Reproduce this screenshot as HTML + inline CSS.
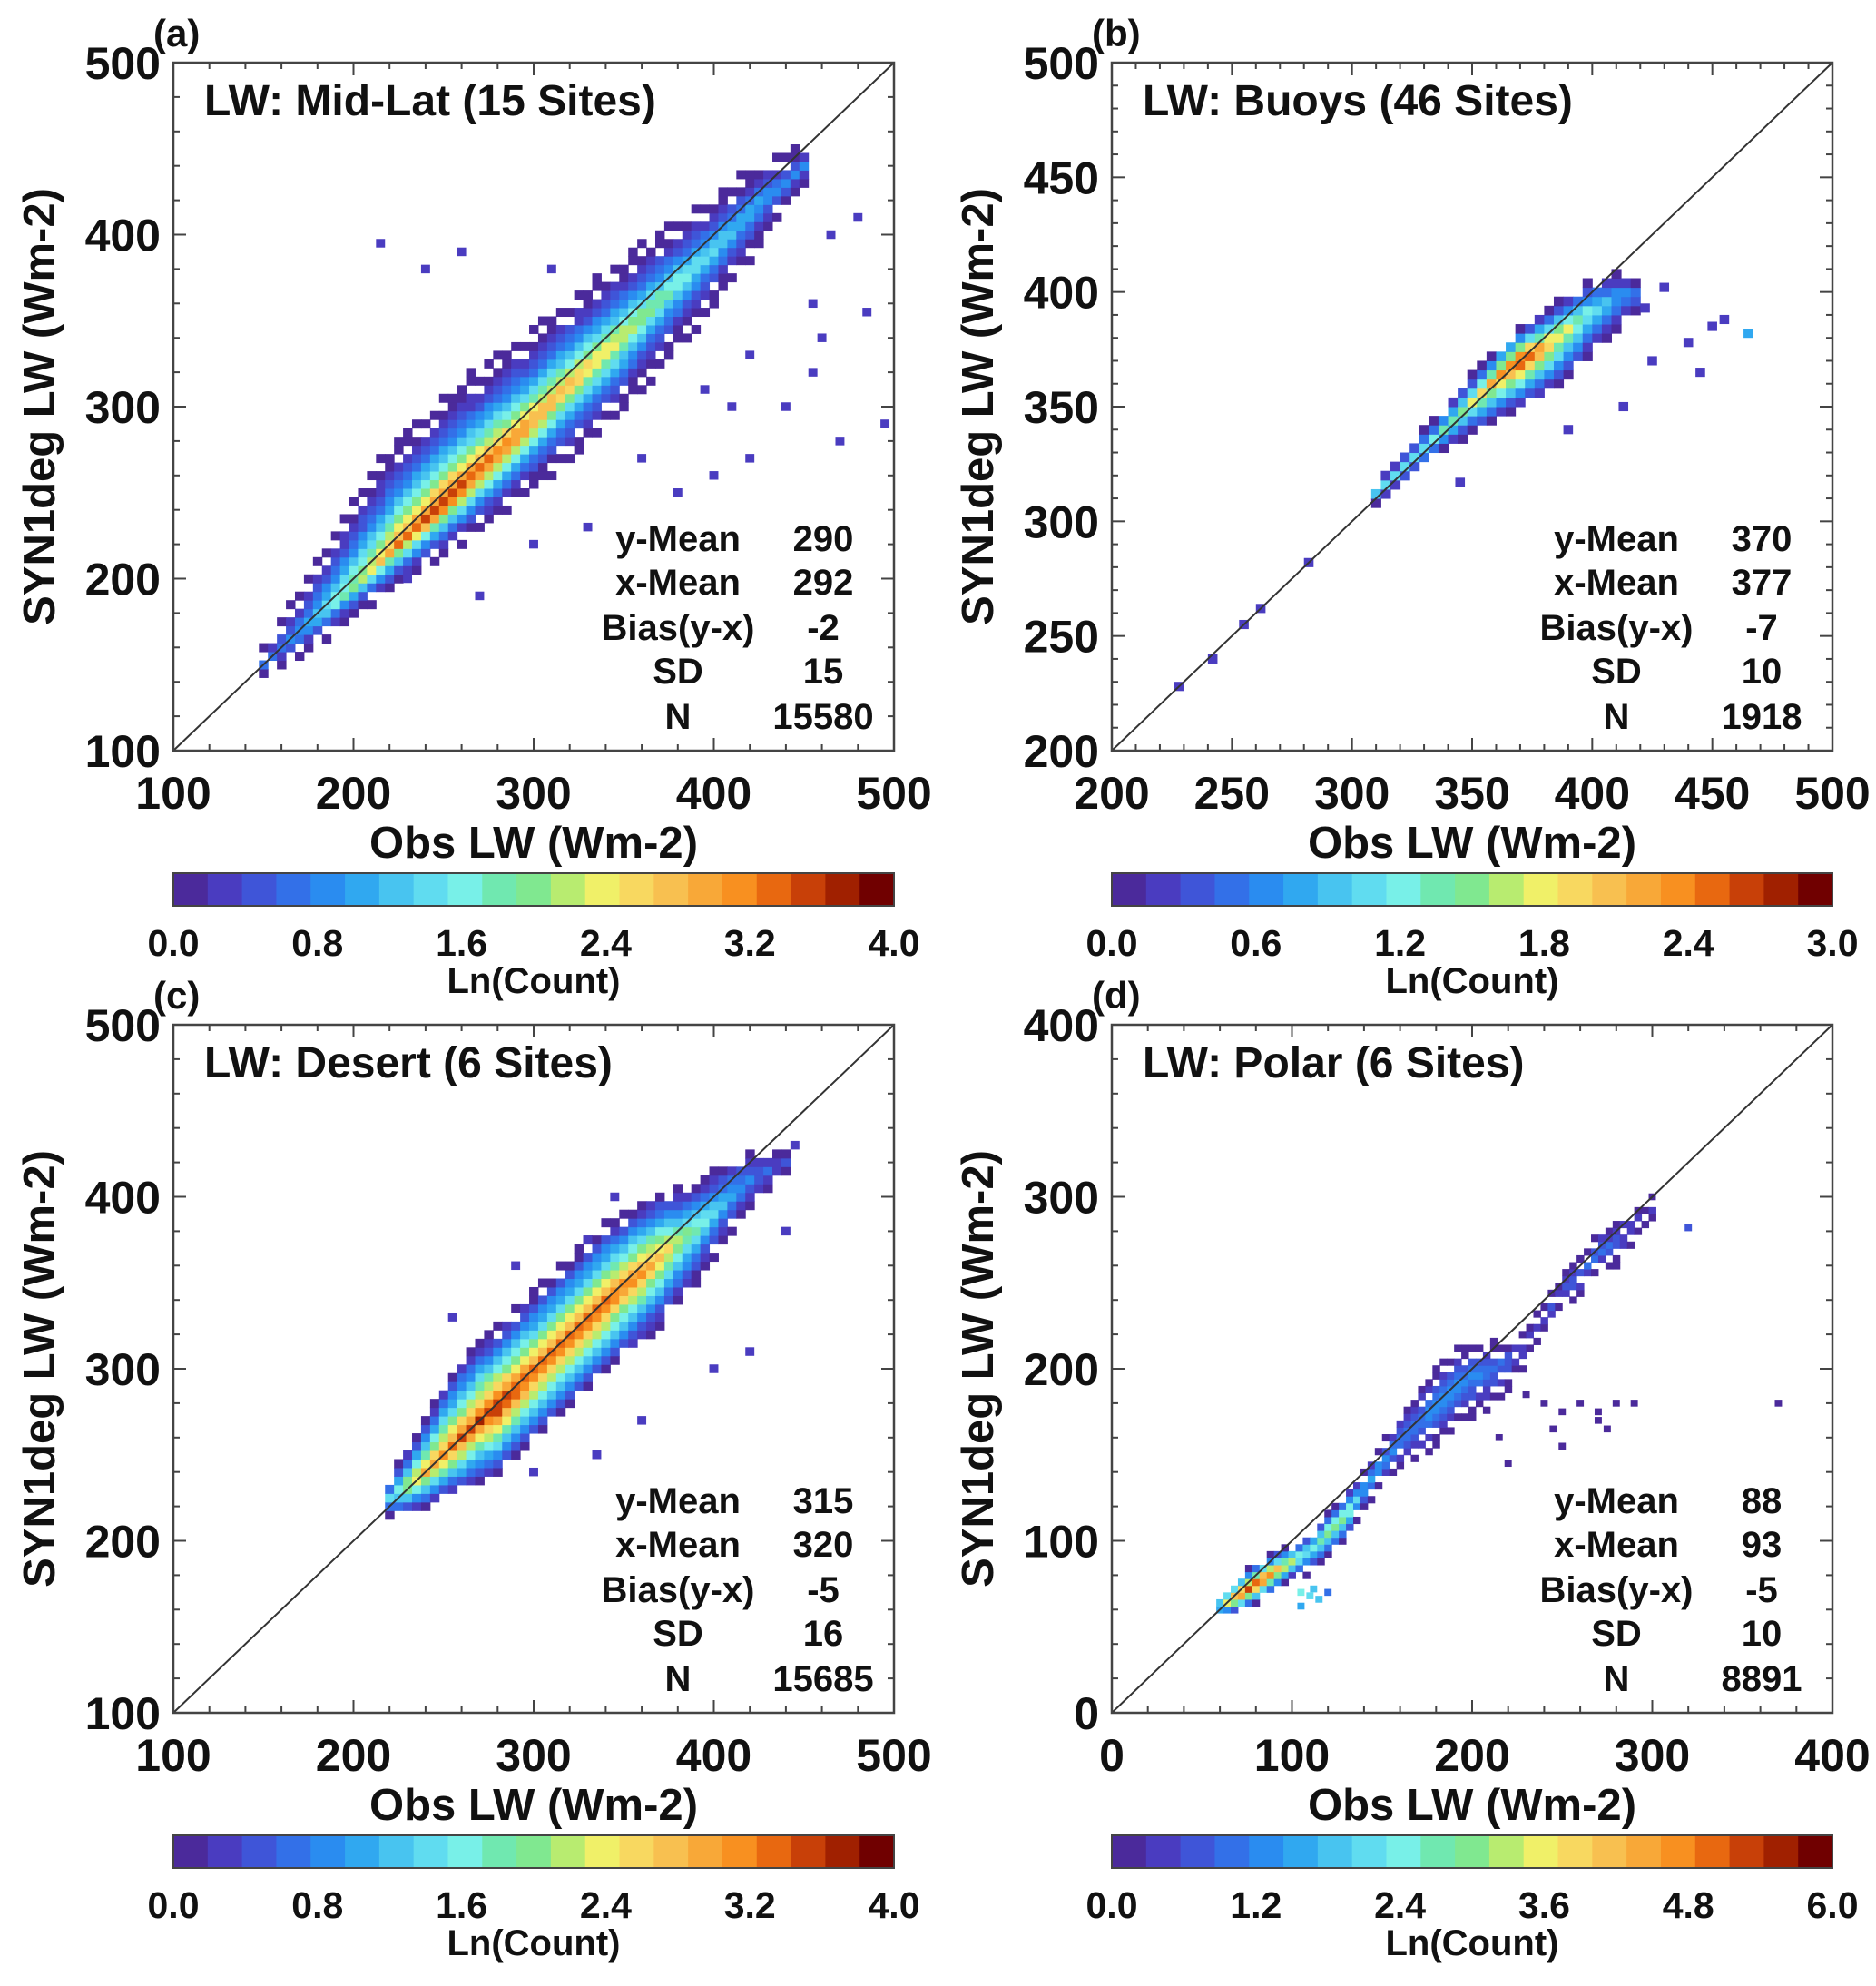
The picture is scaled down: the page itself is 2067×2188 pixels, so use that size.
<!DOCTYPE html>
<html><head><meta charset="utf-8"><style>
body{margin:0;background:#fff}
svg text{font-family:"Liberation Sans",sans-serif;font-weight:bold;fill:#111}
</style></head><body>
<svg id="fig" width="2067" height="2183" viewBox="0 0 2067 2183" xmlns="http://www.w3.org/2000/svg"></svg>
<script>
// ---- data (Ln(Count) density bands) ----
const aX=[150,175,200,225,250,275,300,325,350,375,400,425,450];
const aC=[150,172,196,220,243,268,292,318,342,367,392,418,440];
const aUp=[10,35,55,65,65,60,55,50,45,40,32,25,12];
const aDn=[6,15,20,25,30,38,42,45,45,40,35,28,12];
const aPk=[0.6,1.3,2.3,3.4,4.0,3.7,3.3,3.0,2.6,2.0,1.6,1.2,0.8];
const aOut=[[215,395,0.2],[240,380,0.2],[260,390,0.2],[310,380,0.2],[455,360,0.2],[465,400,0.2],[480,410,0.2],[485,355,0.2],[460,340,0.2],[455,320,0.2],[420,330,0.2],[440,300,0.2],[470,280,0.2],[495,290,0.2],[410,300,0.2],[395,310,0.2],[380,250,0.2],[360,270,0.2],[330,230,0.2],[300,220,0.2],[270,190,0.2],[230,200,0.2],[400,260,0.2],[420,270,0.2]];
const bX=[310,320,330,340,350,360,370,380,390,400,410,420];
const bC=[312,322,332,342,352,362,370,376,384,392,398,400];
const bUp=[5,6,8,10,12,14,15,16,16,14,10,6];
const bDn=[5,6,8,10,14,18,20,22,22,20,15,8];
const bPk=[1.0,1.2,1.2,1.4,1.8,2.4,3.0,2.4,1.8,1.3,0.9,0.5];
const bOut=[[228,228,0.2],[242,240,0.2],[255,255,0.2],[262,262,0.2],[282,282,0.2],[345,317,0.2],[390,340,0.2],[413,350,0.2],[422,393,0.2],[430,402,0.2],[440,378,0.2],[450,385,0.2],[455,388,0.2],[465,382,0.8],[445,365,0.2],[425,370,0.2]];
const cX=[220,230,240,250,260,270,280,290,300,310,320,330,340,350,360,370,380,390,400,410,420,430,440];
const cC=[225,232,240,250,260,270,278,288,298,308,318,328,338,348,356,366,374,382,392,402,410,415,420];
const cUp=[12,22,32,42,47,47,47,47,47,47,47,47,47,42,42,37,32,27,24,20,16,12,8];
const cDn=[12,17,22,27,32,37,42,42,42,42,42,42,42,42,42,42,37,32,27,22,17,12,8];
const cPk=[1.5,2.5,3.0,3.3,3.6,3.8,4.0,3.8,3.6,3.6,3.6,3.6,3.6,3.5,3.4,3.0,2.4,2.0,1.6,1.2,0.9,0.6,0.4];
const cOut=[[255,330,0.2],[290,360,0.2],[330,375,0.2],[345,400,0.2],[440,380,0.2],[445,430,0.2],[400,300,0.2],[360,270,0.2],[335,250,0.2],[300,240,0.2],[420,310,0.2]];
const dX=[60,70,80,90,100,110,120,130,140,150,160,170,180,190,200,210,220,230,240,250,260,270,280,290,300];
const dC=[62,68,75,82,88,95,105,115,130,145,158,168,178,188,195,200,205,215,230,245,255,268,275,285,292];
const dUp=[8,12,12,12,10,10,12,12,12,12,15,20,24,24,20,16,12,8,8,10,12,12,12,8,6];
const dDn=[6,10,12,12,10,15,15,15,12,12,16,20,24,24,24,24,20,12,10,10,12,12,16,12,6];
const dPk=[3,5.5,6,5,3.5,2.5,3.5,3.5,1.6,1.6,1.3,1.3,1.5,1.5,1.4,1.2,0.9,0.5,0.6,0.8,1,1.1,0.9,0.6,0.4];
const dOut=[[105,70,2.5],[110,68,2.2],[115,66,2],[105,62,1.5],[112,72,1.8],[120,70,1.2],[230,185,0.3],[240,180,0.3],[250,175,0.3],[260,180,0.3],[270,175,0.3],[280,180,0.3],[290,180,0.3],[270,170,0.3],[275,165,0.3],[245,165,0.3],[250,155,0.3],[370,180,0.3],[320,282,0.8],[300,300,0.3],[220,145,0.3],[215,160,0.3]];
const ticksA=[100,200,300,400,500], ticksB=[200,250,300,350,400,450,500], ticksBy=[200,250,300,350,400,450,500], ticksD=[0,100,200,300,400];
const cbA=["0.0","0.8","1.6","2.4","3.2","4.0"], cbB=["0.0","0.6","1.2","1.8","2.4","3.0"], cbD=["0.0","1.2","2.4","3.6","4.8","6.0"];
const statLabels=["y-Mean","x-Mean","Bias(y-x)","SD","N"];
const statA=["290","292","-2","15","15580"], statB=["370","377","-7","10","1918"], statC=["315","320","-5","16","15685"], statD=["88","93","-5","10","8891"];
const cmap=["#4b2a9b","#4a3cc0","#3f55d8","#3370e8","#2a8cf0","#30a8f0","#48c4f0","#60dcf0","#78f0e8","#70e8b0","#80e890","#b8ec70","#f0f068","#f8d860","#f8c050","#f8a838","#f89020","#e86810","#c84008","#a02000","#700000"];
const NS="http://www.w3.org/2000/svg", svg=document.getElementById('fig');
function mk(t,a,p){const e=document.createElementNS(NS,t);for(const k in a)e.setAttribute(k,a[k]);(p||svg).appendChild(e);return e;}
function txt(s,x,y,fs,anchor,p,rot){const e=mk('text',{x:x,y:y,'font-size':fs,'text-anchor':anchor||'middle'},p);if(rot)e.setAttribute('transform',rot);e.textContent=s;return e;}
function interp(xs,ys,x){if(x<xs[0]||x>xs[xs.length-1])return null;for(let i=0;i<xs.length-1;i++){if(x<=xs[i+1]){const f=(x-xs[i])/(xs[i+1]-xs[i]);return ys[i]+f*(ys[i+1]-ys[i]);}}return ys[ys.length-1];}
function panel(o){
  const g=mk('g',{});
  const L=191+o.ox,T=69+o.oy,W=794,H=758;
  const sx=v=>L+(v-o.min)/(o.max-o.min)*W, sy=v=>T+H-(v-o.min)/(o.max-o.min)*H;
  const col=v=>cmap[Math.max(0,Math.min(cmap.length-1,Math.floor(v/o.vmax*(cmap.length-1))))];
  const cells=mk('g',{},g);
  const cs=o.cell, pw=cs/(o.max-o.min)*W, ph=cs/(o.max-o.min)*H;
  let i=0;
  for(let x=o.bx[0];x<=o.bx[o.bx.length-1];x+=cs,i++){
    const c=interp(o.bx,o.bc,x),u=interp(o.bx,o.bu,x),d=interp(o.bx,o.bd,x),pk=interp(o.bx,o.bp,x);
    let j=0;
    for(let y=Math.floor((c-d)/cs)*cs;y<=c+u;y+=cs,j++){
      const t=y>=c?(y-c)/u:(c-y)/d; if(t>1)continue;
      const v=pk*Math.pow(1-t,o.ex);
      if(v<o.vmax*o.sparse && ((i*3+j*7)%5<2)) continue;
      const r=mk('rect',{x:sx(x)-pw/2,y:sy(y)-ph/2,width:pw+0.5,height:ph+0.5,fill:col(v)},cells);
      
      
    }
  }
  o.out.forEach(p=>{const r=mk('rect',{x:sx(p[0])-pw/2,y:sy(p[1])-ph/2,width:pw,height:ph,fill:col(p[2])},cells);
    
    });
  const ln=mk('line',{x1:sx(o.min),y1:sy(o.min),x2:sx(o.max),y2:sy(o.max),stroke:'#333','stroke-width':2},g);
  
  const bx=mk('rect',{x:L,y:T,width:W,height:H,fill:'none',stroke:'#444','stroke-width':2.5},g);
  
  for(let v=o.min;v<=o.max+0.01;v+=o.minor){
    const maj=Math.abs(((v-o.min)/o.major)-Math.round((v-o.min)/o.major))<1e-6, len=maj?14:7;
    mk('line',{x1:sx(v),y1:T+H,x2:sx(v),y2:T+H-len,stroke:'#444','stroke-width':2},g);
    mk('line',{x1:sx(v),y1:T,x2:sx(v),y2:T+len,stroke:'#444','stroke-width':2},g);
    mk('line',{x1:L,y1:sy(v),x2:L+len,y2:sy(v),stroke:'#444','stroke-width':2},g);
    mk('line',{x1:L+W,y1:sy(v),x2:L+W-len,y2:sy(v),stroke:'#444','stroke-width':2},g);
  }
  o.xt.forEach(v=>{const e=txt(String(v),sx(v),T+H+64,50,'middle',g);});
  o.yt.forEach(v=>{const e=txt(String(v),L-14,sy(v)+18,50,'end',g);});
  let e=txt('Obs LW (Wm-2)',L+W/2,T+H+118,49,'middle',g);
  e=txt('SYN1deg LW (Wm-2)',0,0,49,'middle',g,`translate(${60+o.ox},${T+H/2}) rotate(-90)`);
  e=txt(o.tag,L-22,T-18,42,'start',g);
  e=txt(o.title,L+34,T+58,48,'start',g);
  const rows=[T+538,T+586,T+636,T+684,T+734];
  statLabels.forEach((s,i)=>{let t=txt(s,L+556,rows[i],40,'middle',g);
    t=txt(o.stats[i],L+716,rows[i],40,'middle',g);});
  const cb=mk('g',{},g);
  const CT=T+893,CH=36,n=cmap.length;
  cmap.forEach((c,i)=>mk('rect',{x:L+i*W/n,y:CT,width:W/n+0.6,height:CH,fill:c},cb));
  mk('rect',{x:L,y:CT,width:W,height:CH,fill:'none',stroke:'#444','stroke-width':2},cb);
  o.cb.forEach((s,i)=>{const t=txt(s,L+i*W/5,CT+91,41,'middle',cb);});
  e=txt('Ln(Count)',L+W/2,CT+132,40,'middle',cb);
}
panel({name:'panel-a-midlat',ox:0,oy:0,min:100,max:500,major:100,minor:20,cell:5,ex:2.0,sparse:0.06,vmax:4,bx:aX,bc:aC,bu:aUp,bd:aDn,bp:aPk,out:aOut,xt:ticksA,yt:ticksA,tag:'(a)',title:'LW: Mid-Lat (15 Sites)',stats:statA,cb:cbA});
panel({name:'panel-b-buoys',ox:1034,oy:0,min:200,max:500,major:50,minor:10,cell:4,ex:1.3,sparse:0.06,vmax:3,bx:bX,bc:bC,bu:bUp,bd:bDn,bp:bPk,out:bOut,xt:ticksB,yt:ticksBy,tag:'(b)',title:'LW: Buoys (46 Sites)',stats:statB,cb:cbB});
panel({name:'panel-c-desert',ox:0,oy:1060,min:100,max:500,major:100,minor:20,cell:5,ex:1.3,sparse:0.06,vmax:4,bx:cX,bc:cC,bu:cUp,bd:cDn,bp:cPk,out:cOut,xt:ticksA,yt:ticksA,tag:'(c)',title:'LW: Desert (6 Sites)',stats:statC,cb:cbA});
panel({name:'panel-d-polar',ox:1034,oy:1060,min:0,max:400,major:100,minor:20,cell:4,ex:1.3,sparse:0.12,vmax:6,bx:dX,bc:dC,bu:dUp,bd:dDn,bp:dPk,out:dOut,xt:ticksD,yt:ticksD,tag:'(d)',title:'LW: Polar (6 Sites)',stats:statD,cb:cbD});
</script>
</body></html>
